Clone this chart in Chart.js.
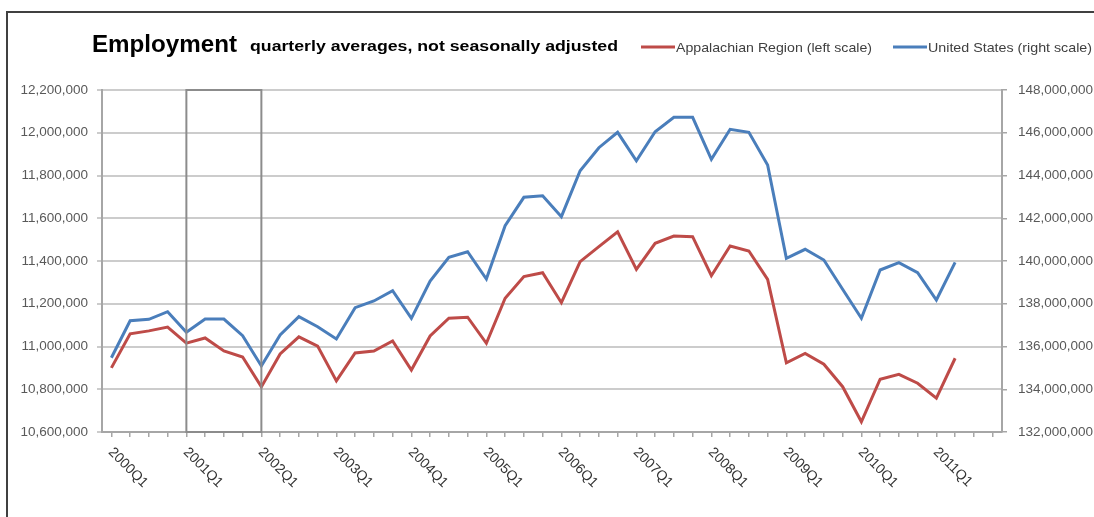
<!DOCTYPE html>
<html>
<head>
<meta charset="utf-8">
<script src="https://cdn.jsdelivr.net/npm/chart.js@4.4.1/dist/chart.umd.min.js"></script>
<style>
    html, body { margin: 0; padding: 0; background: #fff; }
    canvas { display: block; }
</style>
</head>
<body>
<canvas id="employmentGraph" width="1094" height="517"></canvas>
<script>
// years shown on the axis, 4 quarters each (2000Q1 .. 2011Q4)
const years = ['2000', '2001', '2002', '2003', '2004', '2005', '2006', '2007', '2008', '2009', '2010', '2011'];
const quarters = [];
years.forEach(y => {
    for (let q = 1; q <= 4; q++) quarters.push(y + 'Q' + q);
});

// Appalachian Region employment (left scale), 2000Q1 .. 2011Q2
const appalachia = [
    10900000, 11059000, 11073000, 11091000, 11016000, 11040000, 10979000, 10951000,
    10811000, 10965000, 11045000, 11002000, 10839000, 10970000, 10979000, 11026000,
    10890000, 11049000, 11132000, 11137000, 11015000, 11226000, 11327000, 11345000,
    11205000, 11397000, 11467000, 11537000, 11361000, 11483000, 11517000, 11514000,
    11331000, 11470000, 11447000, 11314000, 10924000, 10968000, 10917000, 10812000,
    10648000, 10847000, 10870000, 10828000, 10758000, 10945000
];

// United States employment (right scale), 2000Q1 .. 2011Q2
const unitedStates = [
    135476000, 137207000, 137272000, 137628000, 136664000, 137286000, 137286000, 136505000,
    135088000, 136538000, 137394000, 136926000, 136351000, 137815000, 138129000, 138611000,
    137319000, 139064000, 140173000, 140435000, 139158000, 141651000, 142980000, 143055000,
    142073000, 144225000, 145301000, 146021000, 144692000, 146049000, 146723000, 146723000,
    144758000, 146161000, 146021000, 144491000, 140126000, 140547000, 140047000, 138676000,
    137319000, 139579000, 139920000, 139453000, 138175000, 139939000
];

const seriesNames = ['Appalachian Region (left scale)', 'United States (right scale)'];
const seriesColors = ['#be4b48', '#4a7ebb'];
const highlightFrom = '2001Q1';
const highlightTo = '2002Q1';

const FONT = '"Liberation Sans", Arial, sans-serif';

// draw text squeezed/stretched to a given width (the original is a bit wide)
function fitText(ctx, text, x, y, width) {
    const w = ctx.measureText(text).width;
    ctx.save();
    ctx.translate(x, y);
    ctx.scale(width / w, 1);
    ctx.fillText(text, 0, 0);
    ctx.restore();
}

// title, legend, frame, recession box, rotated year labels
const decorPlugin = {
    id: 'decor',
    beforeDraw(chart) {
        const ctx = chart.ctx;
        ctx.save();
        ctx.fillStyle = '#fff';
        ctx.fillRect(0, 0, chart.width, chart.height);
        ctx.strokeStyle = '#404040';
        ctx.lineWidth = 2;
        ctx.strokeRect(7, 12, chart.width + 20, chart.height + 20);
        ctx.restore();
    },
    afterDatasetsDraw(chart) {
        const ctx = chart.ctx;
        const x = chart.scales.x;
        const area = chart.chartArea;
        ctx.save();
        ctx.strokeStyle = '#8c8c8c';
        ctx.lineWidth = 2;
        const x1 = x.getPixelForValue(quarters.indexOf(highlightFrom));
        const x2 = x.getPixelForValue(quarters.indexOf(highlightTo));
        ctx.strokeRect(x1, area.top, x2 - x1, area.bottom - area.top);
        ctx.restore();
    },
    afterDraw(chart) {
        const ctx = chart.ctx;
        const x = chart.scales.x;
        ctx.save();

        // title
        ctx.fillStyle = '#000';
        ctx.textBaseline = 'alphabetic';
        ctx.font = 'bold 23px ' + FONT;
        fitText(ctx, 'Employment', 92, 52, 145);
        ctx.font = 'bold 15px ' + FONT;
        fitText(ctx, 'quarterly averages, not seasonally adjusted', 250, 51, 368);

        // legend
        ctx.font = '13px ' + FONT;
        ctx.fillStyle = '#404040';
        const legendX = [641, 893];
        const legendW = [196, 164];
        seriesNames.forEach((name, i) => {
            ctx.strokeStyle = seriesColors[i];
            ctx.lineWidth = 3;
            ctx.beginPath();
            ctx.moveTo(legendX[i], 47);
            ctx.lineTo(legendX[i] + 34, 47);
            ctx.stroke();
            fitText(ctx, name, legendX[i] + 35, 52, legendW[i]);
        });

        // year labels, rotated down to the right
        ctx.font = '14px ' + FONT;
        ctx.fillStyle = '#333';
        ctx.textAlign = 'left';
        ctx.textBaseline = 'middle';
        quarters.forEach((q, i) => {
            if (!q.endsWith('Q1')) return;
            const px = x.getPixelForValue(i);
            ctx.save();
            ctx.translate(px - 1, 450);
            ctx.rotate(Math.PI / 4);
            ctx.fillText(q, 0, 0);
            ctx.restore();
        });
        ctx.restore();
    }
};

const ctx = document.getElementById('employmentGraph').getContext('2d');

new Chart(ctx, {
    type: 'line',
    data: {
        labels: quarters,
        datasets: [
            {
                label: seriesNames[0],
                data: appalachia,
                borderColor: seriesColors[0],
                borderWidth: 3,
                pointRadius: 0,
                tension: 0,
                fill: false,
                yAxisID: 'y'
            },
            {
                label: seriesNames[1],
                data: unitedStates,
                borderColor: seriesColors[1],
                borderWidth: 3,
                pointRadius: 0,
                tension: 0,
                fill: false,
                yAxisID: 'y1'
            }
        ]
    },
    options: {
        responsive: false,
        animation: false,
        layout: {
            padding: { top: 90, left: 0, right: 0, bottom: 0 }
        },
        plugins: {
            legend: { display: false },
            title: { display: false },
            tooltip: { enabled: false }
        },
        scales: {
            x: {
                offset: true,
                grid: {
                    offset: false,
                    drawOnChartArea: false,
                    drawTicks: true,
                    tickLength: 5,
                    color: '#a6a6a6',
                    lineWidth: 1.5
                },
                border: { color: '#a6a6a6', width: 2 },
                ticks: {
                    autoSkip: false,
                    maxRotation: 0,
                    callback: () => ''
                },
                afterFit: scale => { scale.height = 85; }
            },
            y: {
                position: 'left',
                min: 10600000,
                max: 12200000,
                ticks: {
                    stepSize: 200000,
                    padding: 9,
                    color: '#595959',
                    font: { family: FONT, size: 13.5 },
                    callback: v => v.toLocaleString('en-US')
                },
                grid: {
                    color: '#cccccc',
                    lineWidth: 2,
                    tickLength: 5
                },
                border: { color: '#a6a6a6', width: 2 },
                afterFit: scale => { scale.width = 102; }
            },
            y1: {
                position: 'right',
                min: 132000000,
                max: 148000000,
                ticks: {
                    stepSize: 2000000,
                    padding: 11,
                    color: '#595959',
                    font: { family: FONT, size: 13.5 },
                    callback: v => v.toLocaleString('en-US')
                },
                grid: {
                    drawOnChartArea: false,
                    color: '#a6a6a6',
                    lineWidth: 1.5,
                    tickLength: 5
                },
                border: { color: '#a6a6a6', width: 2 },
                afterFit: scale => { scale.width = 92; }
            }
        }
    },
    plugins: [decorPlugin]
});
</script>
</body>
</html>
